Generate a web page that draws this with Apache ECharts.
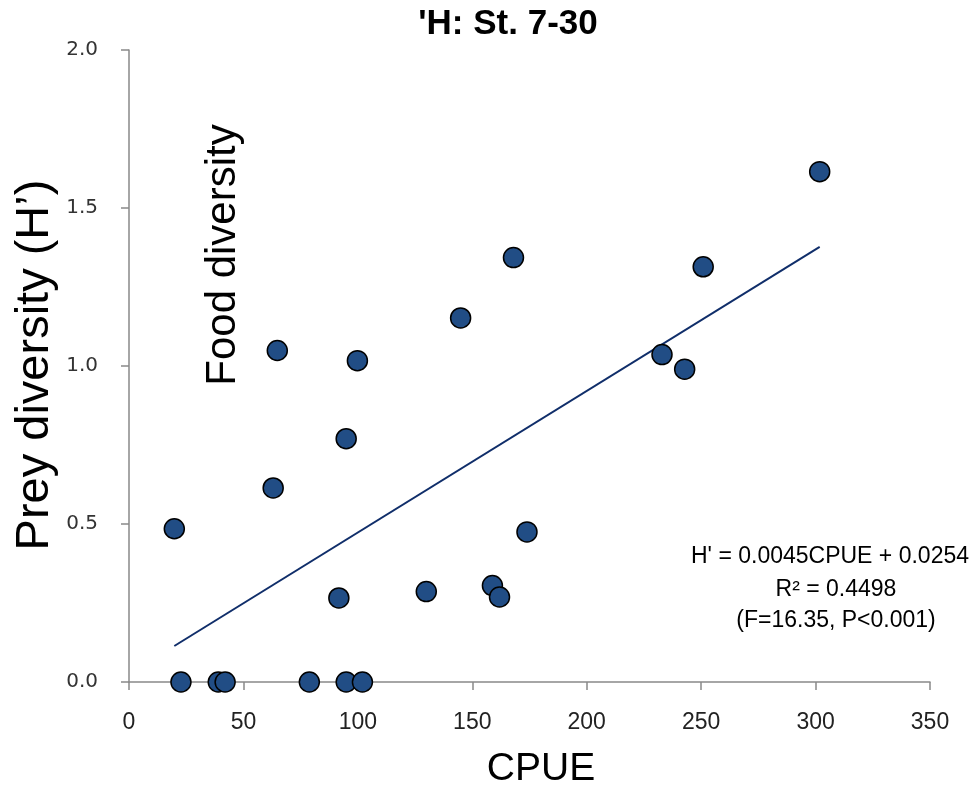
<!DOCTYPE html>
<html>
<head>
<meta charset="utf-8">
<script src="https://cdn.jsdelivr.net/npm/echarts@6/dist/echarts.min.js"></script>
<style>
html,body{margin:0;padding:0;background:#fff;}
#chart{width:973px;height:791px;}
</style>
</head>
<body>
<div id="chart"></div>
<script>
// ---- data ----
const cpue = [19.8, 22.7, 39.0, 42.0, 78.8, 94.9, 102.0, 63.0, 64.8, 94.9, 99.8, 91.7, 129.9, 144.9, 168.0, 158.8, 161.9, 173.9, 232.9, 242.8, 250.9, 301.8];
const preyH = [0.485, 0, 0, 0, 0, 0, 0, 0.614, 1.049, 0.770, 1.017, 0.266, 0.286, 1.152, 1.343, 0.305, 0.269, 0.475, 1.036, 0.990, 1.314, 1.615];
const trendX = [19.8, 301.8];
const trendY = [0.114, 1.377];
const xTicks = [0, 50, 100, 150, 200, 250, 300, 350];
const yTicks = [0.0, 0.5, 1.0, 1.5, 2.0];
const titleText = "'H: St. 7-30";
const xTitle = "CPUE";
const yTitle = "Prey diversity (H\u2019)";
const noteText = "Food diversity";
const eqLines = ["H' = 0.0045CPUE + 0.0254", "R\u00B2 = 0.4498", "(F=16.35, P<0.001)"];

const points = cpue.map((x, i) => [x, preyH[i]]);
const trend = trendX.map((x, i) => [x, trendY[i]]);

const chart = echarts.init(document.getElementById('chart'), null, {renderer: 'canvas'});
const axisGray = '#898989';
const sans = '"Liberation Sans", Arial, sans-serif';

chart.setOption({
  animation: false,
  backgroundColor: '#ffffff',
  grid: {left: 129, right: 43, top: 50, bottom: 109, containLabel: false},
  xAxis: {
    type: 'value', min: xTicks[0], max: xTicks[xTicks.length - 1], interval: 50,
    axisLine: {show: true, onZero: false, lineStyle: {color: axisGray, width: 1.5}},
    axisTick: {show: true, inside: false, length: 8, lineStyle: {color: axisGray, width: 1.5}},
    splitLine: {show: false},
    axisLabel: {color: '#222', fontFamily: sans, fontSize: 23, margin: 29}
  },
  yAxis: {
    type: 'value', min: yTicks[0], max: yTicks[yTicks.length - 1], interval: 0.5,
    axisLine: {show: true, onZero: false, lineStyle: {color: axisGray, width: 1.5}},
    axisTick: {show: true, inside: false, length: 8, lineStyle: {color: axisGray, width: 1.5}},
    splitLine: {show: false},
    axisLabel: {color: '#333', fontFamily: '"DejaVu Sans", Verdana, sans-serif', fontSize: 20, margin: 31,
      formatter: v => v.toFixed(1)}
  },
  series: [
    {
      type: 'line', data: trend, symbol: 'none', z: 2,
      lineStyle: {color: '#102E6A', width: 2}
    },
    {
      type: 'scatter', data: points, symbol: 'circle', symbolSize: 20, z: 3,
      itemStyle: {color: '#214D85', borderColor: '#000', borderWidth: 1.5, opacity: 1}
    }
  ],
  graphic: [
    {type: 'text', x: 508, y: 24, style: {text: titleText, font: 'bold 35px ' + sans, fill: '#000', textAlign: 'center', textVerticalAlign: 'middle'}},
    {type: 'text', x: 541, y: 769, style: {text: xTitle, font: '39px ' + sans, fill: '#000', textAlign: 'center', textVerticalAlign: 'middle'}},
    {type: 'text', x: 35, y: 365, rotation: Math.PI / 2, style: {text: yTitle, font: '47px ' + sans, fill: '#000', textAlign: 'center', textVerticalAlign: 'middle'}},
    {type: 'text', x: 223, y: 255, rotation: Math.PI / 2, style: {text: noteText, font: '42px ' + sans, fill: '#000', textAlign: 'center', textVerticalAlign: 'middle'}},
    {type: 'text', x: 830, y: 557, style: {text: eqLines[0], font: '23px ' + sans, fill: '#000', textAlign: 'center', textVerticalAlign: 'middle'}},
    {type: 'text', x: 836, y: 590, style: {text: eqLines[1], font: '23px ' + sans, fill: '#000', textAlign: 'center', textVerticalAlign: 'middle'}},
    {type: 'text', x: 836, y: 621, style: {text: eqLines[2], font: '23px ' + sans, fill: '#000', textAlign: 'center', textVerticalAlign: 'middle'}}
  ]
});
</script>
</body>
</html>
